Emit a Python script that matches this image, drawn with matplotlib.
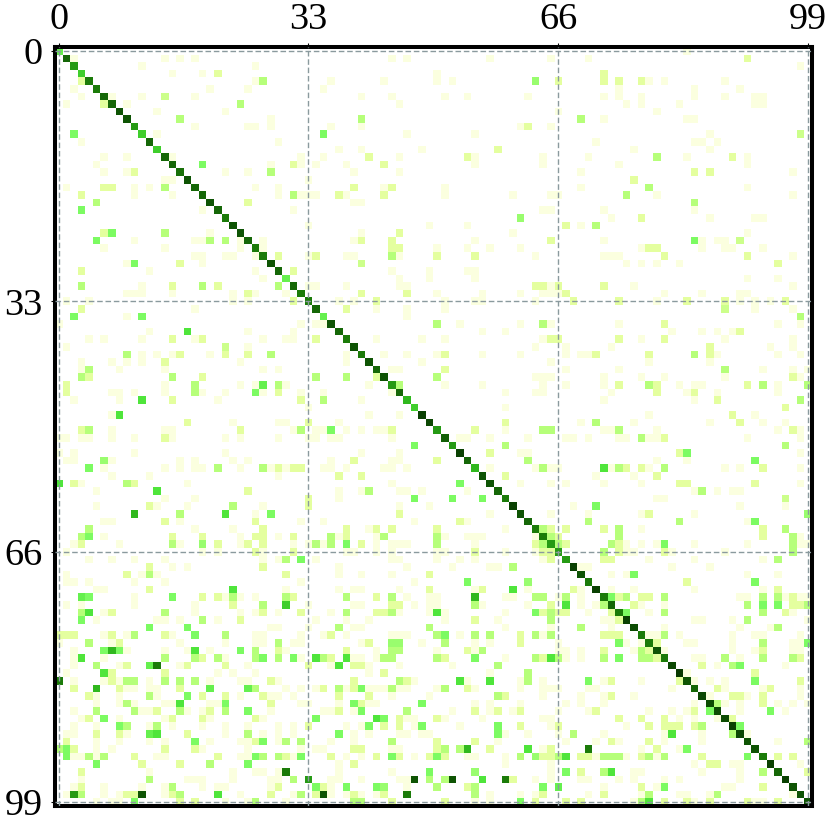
import numpy as np
import matplotlib
matplotlib.use('Agg')
import matplotlib.pyplot as plt
from matplotlib.colors import LinearSegmentedColormap

# diagonal strength, row 0 to 99
diag = [4.5, 7.5, 6.5, 5.5, 7, 7, 7.5, 7.5, 8, 8, 6.5, 5.5, 7.5, 5.5, 7.5, 7.5, 7.3, 8, 7.5, 7.5,
        8, 7.5, 7, 8, 8, 7.5, 7, 7, 8, 7.5, 4.5, 7.5, 7, 7, 7.5, 4.5, 8, 7.5, 7, 8,
        7, 8, 7.5, 8, 6.5, 7.5, 6, 5.5, 8.5, 8.3, 6.5, 7.7, 6.5, 8.5, 7.5, 6, 8, 8, 7.5, 7,
        8.5, 8, 7.5, 7, 7, 6.5, 6.5, 6.5, 8.5, 8, 7, 8.5, 7, 7.5, 7, 8.5, 8.2, 7, 7, 8,
        7, 8.3, 8.7, 8, 7.5, 8.3, 8.2, 8.2, 8.2, 8.5, 8.3, 8, 8, 7, 8.5, 7.5, 8.5, 8, 8, 8]

# off diagonal cells, one dict per row: column -> strength
r00 = {83:1}
r01 = {2:1,14:1,16:1,18:1,44:1,46:1,57:1,65:1,70:1,91:2}
r02 = {11:1,26:1,98:1}
r03 = {15:1,19:1,21:2,50:1,72:2}
r04 = {3:2,26:1,27:3,36:1,43:1,50:1,52:1,63:3.5,66:2,72:2,74:2,77:2,78:1,80:1,88:1}
r05 = {2:1,20:1,25:1,35:1,74:1,84:1,90:1}
r06 = {3:1,7:1,11:1,14:2.5,18:1,40:1,44:1,51:1,54:1,62:1,72:1,74:1,77:1,84:1,88:1,92:1,93:1}
r07 = {1:1,6:2,9:1,24:3,45:1,75:1,77:1,82:1,92:1,93:1}
r08 = {13:1,22:1,66:1,79:1}
r09 = {16:3,28:1,40:3,69:3,72:1,83:1,84:1}
r10 = {18:1,25:1,26:1,28:1,36:1,40:1,61:1,62:2,65:1}
r11 = {2:4,13:1,35:4,46:1,55:1,86:1,98:2.5}
r12 = {3:1,29:1,71:1,84:1,85:1,87:1}
r13 = {37:1,40:1,48:1,58:2,76:1,86:1}
r14 = {6:1,9:1,15:1,32:1,35:1,41:2,45:1,54:2,55:1,64:1,70:1,79:3,83:1,89:2,91:1}
r15 = {5:1,19:4,28:1,31:2,32:1,34:1,38:1,43:2,55:1,64:1,74:1,91:1}
r16 = {6:1,9:1,10:2,22:1,25:1,28:3,39:1,45:1,69:1,84:2,86:2,97:1}
r17 = {14:1,15:1,33:1,76:2}
r18 = {1:1,6:2,7:2,10:1,12:1,14:3,26:1,29:1,39:2,43:1,44:2,51:1,69:1,78:3,91:1}
r19 = {3:2,10:1,15:1,29:1,31:3,32:1,33:1,34:1,37:2,38:1,43:2,51:1,60:1,65:1,66:1,75:3,79:1,97:1}
r20 = {5:3,25:2,39:1,40:1,84:3}
r21 = {3:4,19:1,31:1,64:1,65:1,72:1,84:1}
r22 = {61:3.5,73:1,77:2,86:1,92:1,93:1}
r23 = {33:1,49:1,54:1,67:2,69:1,71:3}
r24 = {6:2,7:4,14:3,20:1,40:1,45:2,60:1,91:1}
r25 = {5:4,10:1,18:1,19:1,20:3,22:3,24:1,27:1,39:1,40:2,44:2,55:1,65:2,72:1,84:4,85:1,87:1,88:1,90:2.5}
r26 = {6:1,14:1,24:1,27:1,44:2,45:2,50:1,54:1,57:1,61:1,77:1,78:2,79:2,85:1,88:1,89:1,93:1}
r27 = {18:1,19:1,22:1,23:1,26:1,29:2,33:1,34:2,38:1,39:1,44:3,45:1,50:2,55:2,63:1,72:1,73:1,74:1,80:2,91:2,97:1}
r28 = {9:1,10:4,16:2,19:1,40:2.5,75:1,77:1,79:1,82:1,95:2}
r29 = {3:2,12:1,26:1,31:2,44:1,49:1,54:1,55:1}
r30 = {27:1,45:1,49:1,55:1,91:1,95:1}
r31 = {3:3,11:1,15:2,19:3,21:2,29:3,33:1,34:1,38:1,45:1,46:1,63:2,64:2,65:1,66:2,72:2,76:1,97:1}
r32 = {9:1,10:1,11:1,15:1,23:1,25:2,26:1,30:1,40:2,46:2,50:1,56:1,61:1,64:1,65:1,66:1,67:2,80:1,85:1,90:1,91:1}
r33 = {1:1,4:1,23:1,25:1,31:2,37:1,39:1,42:2,51:1,55:1,56:1,63:1,68:2,74:2,79:1,83:2,88:2,90:1,92:1,94:1,96:2}
r34 = {3:2,18:1,38:2,42:1,46:1,51:1,88:2.5,92:1,97:1}
r35 = {2:4,9:1,11:4,46:1,98:3}
r36 = {0:1,32:1,34:1,35:1,50:3,53:1,61:1,64:3,65:1,74:1,80:2,95:1,98:1}
r37 = {12:1,17:5,25:1,31:1,56:1,59:1,81:1,85:1,87:1,89:1,90:2}
r38 = {4:1,6:1,11:1,15:2,18:1,19:2,27:1,30:1,31:1,34:2,42:1,48:1,51:1,64:1,65:2,66:2,74:2,77:1,80:2,88:1,97:1}
r39 = {1:1,22:2.5,25:1,63:1,67:1,73:1,86:2,94:1,97:1}
r40 = {9:3,11:1,13:1,15:1,16:2,20:1,22:2,25:2,28:3,38:1,43:1,46:1,50:1,51:2,56:1,61:1,67:1,69:1,70:1,71:2,78:2,84:3,86:2,87:1,95:1,98:1}
r41 = {3:1,7:1,9:1,11:1,14:2,24:1,38:1,48:1,65:1,78:1,86:1}
r42 = {3:1,4:3,8:1,14:1,27:1,29:1,44:1,45:1,51:2,67:1,74:1,88:3,93:1,97:1,99:1}
r43 = {3:3,4:2,15:3,19:2,34:3,38:3,42:2,50:3,63:1,64:1,65:1,72:1,77:1,80:1,88:1,97:2,98:1}
r44 = {1:2,14:1,18:3,24:1,26:1,27:4.5,29:3,30:1,41:1,45:3,51:1,56:1,64:1,67:1,72:1,74:2,78:3,79:2,82:1,84:1,85:1,91:2,93:3,95:1,99:3}
r45 = {1:2,7:1,8:1,10:1,14:1,18:3,19:1,22:1,26:4,27:1,29:2,32:1,35:1,44:1,59:1,63:1,64:1,73:1,79:2,83:1,84:2,87:1,95:1}
r46 = {2:1,8:1,11:5,15:2,21:1,32:2,35:3,40:1,72:1,84:1,87:2,98:3}
r47 = {33:1,59:1,96:2}
r48 = {7:1,8:5,41:1,45:1,78:1,89:2,92:1}
r49 = {17:2,23:1,29:1,30:1,33:2,37:1,59:2,69:1,71:3,76:1,86:1,90:2,93:1,96:1}
r50 = {3:2,4:3,7:1,14:1,15:1,24:2,31:1,32:3,34:1,35:1,36:4,38:1,40:1,42:1,43:1,44:2,55:2,59:1,64:3,65:3,72:1,73:1,74:3,79:1,95:1,97:2,98:1}
r51 = {0:1,1:1,3:1,4:1,7:1,10:1,14:2,15:1,22:1,24:1,29:1,33:1,34:1,36:1,37:1,44:1,53:1,54:1,57:1,62:1,67:1,68:1,70:1,74:1,75:1,77:3,78:1,79:1,80:2,91:1,98:1}
r52 = {47:4,59:3,96:3}
r53 = {0:1,2:1,10:1,22:1,40:1,45:1,57:2,61:1,62:1,82:2,83:4,98:1}
r54 = {1:1,2:1,6:3.5,7:1,16:1,18:1,23:1,25:1,36:1,39:2,44:1,45:1,50:2,62:3,79:1,83:1,92:4}
r55 = {4:4,6:1,14:1,16:1,18:1,19:1,21:3,24:1,27:3,28:1,29:2,30:1,31:2,32:2,35:1,36:1,38:1,43:1,44:1,46:1,57:1,63:1,64:3,65:1,66:1,72:5,73:1,74:3,75:2,77:2,78:1,80:3,88:1,90:1,93:2,98:1}
r56 = {7:1,12:1,29:1,37:2,40:2,59:2,71:1,76:1,79:2}
r57 = {0:5,2:2,3:1,9:3,10:2,17:1,44:1,53:4,61:1,65:1,67:1,72:1,77:1,82:2,83:2,92:2,98:1}
r58 = {5:1,13:5,25:2,37:1,40:1,41:3,45:1,46:1,48:1,54:1,84:1,85:3,87:1,89:1,90:1}
r59 = {14:1,18:1,33:2,37:1,47:4,52:4,56:4,79:1,80:1,96:2.5}
r60 = {5:1,12:2,13:1,17:1,23:3,27:1,33:2,45:1,49:1,68:1,71:4,90:1,96:1}
r61 = {10:6,16:3,22:5,26:1,28:4,45:2,57:1,65:1,70:1,77:1,78:2,84:1,99:3.5}
r62 = {6:1,7:1,14:2,16:1,26:2,32:1,35:1,47:1,53:2,54:1,70:3,82:3,91:1,92:4}
r63 = {4:3,18:1,23:1,27:2,38:2,41:1,42:2,44:2,50:2,59:1,64:3,65:2,67:2,72:2,74:3,77:1,93:2,96:3}
r64 = {3:3,4:4,6:1,15:2,19:2,24:1,26:2,27:2,29:1,31:2,36:3,37:1,38:2,42:1,43:3,50:3,51:1,54:1,55:1,56:1,63:1,65:3,66:2,74:3,93:2,97:3,98:1}
r65 = {2:1,3:2,8:1,15:3,16:1,19:3.5,21:2,24:1,25:2,27:2,31:1,33:1,34:3,35:1,36:3,38:4,40:2,42:1,44:1,45:1,46:1,50:3,55:1,63:2,64:3,66:3,67:2,73:3,74:2,75:1,77:1,79:1,80:4,84:1,91:1,97:3,98:1,99:1}
r66 = {1:1,19:1,21:1,26:2,27:1,31:2,38:1,39:1,42:1,44:1,50:1,51:1,55:2,59:1,63:1,64:2,65:2,72:3,74:2,75:1,76:1,80:2,81:1,88:1,97:3}
r67 = {4:1,7:1,10:1,14:1,27:1,29:1,30:3,32:4,34:1,44:1,45:1,50:1,53:1,55:1,64:1,65:2,72:2,73:2,78:1,84:1,93:1,95:3}
r68 = {12:2,15:1,17:1,27:2,37:1,46:1,52:1,57:1,58:1,60:3,69:1,70:1,81:1,86:1}
r69 = {1:1,9:2,11:1,12:3,13:1,30:2,37:1,40:1,44:1,49:2,73:1,75:1,76:4,91:1,95:1}
r70 = {1:1,2:1,4:1,10:1,14:1,32:1,47:1,54:4,62:3.5,83:2,92:4}
r71 = {5:1,6:1,12:2,23:5,30:1,37:1,39:1,40:1,45:1,49:2,55:1,56:2,60:5,62:1,68:2,69:1,73:1,76:1,84:1,93:1,95:2}
r72 = {3:4.5,4:4,10:1,15:4,19:2,21:2,22:1,23:3,24:1,26:1,30:3,31:2,38:3,42:2,44:3,46:1,49:1,50:1,55:6,59:1,60:1,63:3,64:3,66:1,67:3,69:1,73:4,74:2,75:3,77:2,78:2,80:3,90:1,91:1,93:3,95:3,96:1,97:2,98:1,99:1}
r73 = {1:1,3:1,10:1,18:1,23:2,27:3,30:5.5,33:1,39:1,40:1,44:2,45:2,47:1,49:1,50:1,55:3,56:1,62:1,65:2,67:5,69:1,71:1,72:3,76:2,77:1,80:1,91:3,93:4,95:4,97:2,98:2,99:3}
r74 = {3:3,4:5,6:1,7:2,14:3,18:1,24:1,26:1,27:2,29:1,32:2,36:1,38:3,42:2,43:2,44:3,45:1,49:1,50:5,51:1,59:1,63:4,64:2,65:3,66:2,67:2,70:1,73:2,75:4,78:1,80:3,93:3,96:2,97:1}
r75 = {3:4,5:1,13:1,14:1,16:1,19:3,21:1,24:2,34:1,38:1,41:1,51:1,55:2,58:1,65:3,72:1,73:1,74:2,84:1,85:1,89:1,91:3,99:1}
r76 = {12:4,17:4,28:1,29:1,33:1,37:3,39:1,40:1,49:3,59:1,65:1,69:3,73:1,80:1,90:1,94:1,95:3}
r77 = {0:2,1:2,2:2,6:1,7:2,9:1,10:3,14:2,15:1,18:4,22:3,26:1,27:1,32:1,35:1,36:2,38:1,44:1,45:1,46:1,50:3,51:4,53:1,55:3,57:3,61:2,63:3,64:1,65:3,72:2,73:2,74:2,78:1,79:1,80:3,82:1,89:1,92:1,93:1,98:1}
r78 = {0:1,4:3,7:1,8:2,16:1,22:1,26:1,27:1,29:3,31:1,32:1,40:1,41:2,44:3.5,45:3.5,48:1,51:3,55:1,57:1,61:2,66:1,74:4,75:1,77:1,79:2,83:1,84:1,89:1,93:3,97:1,98:1,99:4}
r79 = {2:1,6:4,7:6,8:4,9:1,14:1,17:1,18:5,20:1,24:4,26:3,29:2,30:1,38:2,42:1,44:3,45:3,50:1,54:2,55:1,56:3,66:1,67:1,69:1,72:2,76:1,77:3,78:2,80:1,89:1,92:1,93:2,97:1,98:1}
r80 = {2:1,3:5,6:1,14:3,18:3,19:2,21:3,22:1,26:3,27:4,29:3,31:4,32:1,34:5,35:3,36:2,38:5,39:1,40:1,42:1,43:3,44:3,50:3,51:2,55:4,59:1,63:3,64:2,65:5,66:3,67:1,69:1,72:3,74:4,77:3,78:3,79:2,84:1,85:1,88:3,90:1,93:3,97:3,98:2}
r81 = {2:1,5:3,8:1,9:2,12:4.5,13:7,16:1,17:2,22:2,25:1,33:2,36:1,37:5,39:2,40:2,41:1,45:1,52:1,58:3,85:2,87:1,89:3,90:4,96:1}
r82 = {1:1,6:5,7:2,14:2,21:1,23:1,26:1,41:1,43:2,57:1,62:3,83:1,92:2}
r83 = {0:7,2:1,6:1,7:2,8:1,9:3,10:3,12:1,14:3,16:3,18:3,20:1,24:1,25:1,28:2,29:1,39:2,45:3,46:2,47:1,53:5,54:1,57:5,61:1,62:3,64:1,70:4,72:1,73:2,77:1,82:2,84:1,86:1,88:1,92:4,98:2}
r84 = {2:2,5:6,8:2,9:1,10:1,12:1,13:1,16:2,20:4.5,25:4.5,26:3,30:1,32:1,34:1,35:2,37:3,38:1,39:2,40:4,41:1,42:1,43:1,44:3,45:1,46:1,50:1,51:3,54:2,55:1,61:1,64:1,65:1,66:1,70:1,71:1,81:1,87:2,88:1,93:1,94:2,98:1}
r85 = {4:2,5:1,8:1,12:3,13:1,17:4,19:2,22:2,24:1,27:2,28:1,29:1,31:1,37:2,41:2,44:1,49:1,58:3,59:2,64:1,69:1,72:1,73:2,76:1,86:1,89:2,90:2,91:1,93:2,98:1}
r86 = {5:1,8:1,9:3,10:1,14:1,15:1,16:5,20:1,21:1,22:4,28:2,32:1,33:1,37:1,39:4,40:2,41:1,42:1,48:4,55:1,57:1,61:1,67:1,69:1,72:1,84:1,87:3,88:1,90:1,93:2,95:1,97:1,99:1}
r87 = {2:1,5:3,10:3,11:1,12:1,13:2,16:3,17:1,19:1,20:2,22:3,25:4,28:1,35:1,36:1,37:2,39:1,40:4,46:3,52:1,55:2,57:1,58:2,60:1,61:2,66:1,70:1,71:2,78:1,81:1,83:1,84:2,86:4,90:1,94:4,96:1}
r88 = {3:1,4:2,6:4,8:1,14:1,15:2,19:2,20:1,26:2,27:1,34:4,42:5,43:4,45:2,46:1,47:1,50:2,51:1,56:1,64:1,65:1,74:2,77:2,80:2,82:1,84:1,87:1,89:2}
r89 = {2:1,5:1,8:4,9:3,12:1,13:3,15:1,19:1,22:1,25:1,29:1,31:1,33:2,38:1,40:1,41:4,43:2,45:2,47:1,48:4,53:1,58:4,61:2,65:1,66:2,75:1,78:2,80:2,81:2,82:2,84:2,85:3,90:4}
r90 = {1:1,2:1,5:2,8:2,9:1,12:4.5,13:5,17:2,22:1,25:3,27:1,29:1,31:1,37:4,39:1,41:1,45:1,46:1,48:1,49:1,58:4,59:1,62:1,66:1,68:3,72:1,80:1,81:5,85:1,89:3,91:1}
r91 = {1:2,5:1,8:1,12:1,14:1,18:4,20:1,24:1,25:1,26:2,27:4,29:1,30:3,32:3,36:1,39:1,44:3,50:2,55:2,58:1,67:1,71:1,73:2,74:1,78:2,80:1,85:1,95:1,99:3}
r92 = {0:3,1:4,2:2,5:1,7:1,14:2,18:2,19:1,25:1,32:1,34:1,35:1,39:2,40:2,44:1,45:1,50:2,51:3,53:3,54:6,57:2,62:5,64:1,65:2,70:7,77:1,79:2,82:1,83:4}
r93 = {1:4,2:1,3:1,4:3,5:1,6:3,10:2,13:1,14:1,21:2,24:1,25:1,26:4,27:3,29:3,30:2,31:1,32:4,36:2,38:1,40:1,42:2,44:4,45:2,47:1,49:2,50:4,51:2,54:1,55:1,59:1,61:3,63:3.5,64:2,65:2,66:3,67:5,69:2,70:2,71:1,72:3,73:3,74:3,75:1,77:2,78:3,79:1,80:3,85:2,91:4,95:2,97:2}
r94 = {5:4,11:2,16:2,20:3,25:4,37:1,39:2,59:1,65:1,84:1,86:2,87:2,89:1,90:1,98:1}
r95 = {3:2,12:1,23:1,26:1,27:1,29:1,30:7,37:1,44:1,49:4,55:3.5,65:1,67:4,69:2,72:3,73:5,76:1,77:1,85:1,90:1,93:3,99:2}
r96 = {3:1,12:3,17:1,18:1,19:1,23:1,28:1,29:1,31:3,33:6.5,36:1,37:1,40:1,45:1,46:1,47:8,49:3,51:3,52:8,56:5,59:7,60:2,63:1,65:1,69:1,70:1,74:1,76:1,80:1,82:1,90:1}
r97 = {2:1,3:2,6:1,11:1,14:1,15:3,19:1,21:1,22:1,28:1,29:2,34:4,35:2,36:1,38:4,42:4,43:3.5,46:1,50:3,54:2,55:3,64:4,66:4.5,72:1,77:2,79:1,80:4,88:1,89:1,93:2}
r98 = {1:1,2:6.5,3:3,6:1,8:1,9:2,10:2,11:8,14:1,15:2,16:3,21:5,24:1,28:2,31:1,32:3,34:2,35:8,36:1,38:1,39:2,40:1,42:1,43:2,46:7,55:3,57:1,61:1,63:1,64:2,70:1,72:2,77:1,78:3,82:1,83:1,86:1,87:3,97:1}
r99 = {5:1,7:1,8:1,10:4,16:2,18:2,22:1,25:1,26:3,30:1,39:3,40:3,44:2,51:2,55:1,57:1,61:4,63:2,67:2,69:2,76:1,77:3,78:5,80:2,83:2,84:1,86:2,91:2,92:1,93:1,95:2}

ticks = [0, 33, 66, 99]

# build the matrix from the rows
rows = [globals()['r%02d' % i] for i in range(100)]
M = np.zeros((100, 100))
for i, row in enumerate(rows):
    for j, v in row.items():
        M[i, j] = v
    M[i, i] = diag[i]

cmap = LinearSegmentedColormap.from_list('greens', [
    (0.0, '#ffffff'), (1 / 9, '#fbffdf'), (2 / 9, '#e4ff9e'), (3 / 9, '#b6ff7a'),
    (4 / 9, '#7cfb62'), (5 / 9, '#50e63c'), (6 / 9, '#30b81e'), (7 / 9, '#1c7c0a'),
    (8 / 9, '#0f5505'), (1.0, '#062e00')])

plt.rcParams['font.family'] = ['Liberation Serif', 'DejaVu Serif']

fig = plt.figure(figsize=(8.3, 8.24), dpi=100)
ax = fig.add_axes([54.9 / 830, 18 / 824, 756.9 / 830, 758.8 / 824])
ax.imshow(M, cmap=cmap, vmin=0, vmax=9, aspect='auto', interpolation='nearest')

for t in ticks:
    ax.axhline(t, color='#8a9a9e', lw=1, ls=(0, (4, 2)), zorder=3)
    ax.axvline(t, color='#8a9a9e', lw=1, ls=(0, (4, 2)), zorder=3)

ax.xaxis.tick_top()
ax.set_xticks(ticks)
ax.set_yticks(ticks)
ax.tick_params(length=3, width=0.8, labelsize=27.5)
ax.tick_params(axis='x', pad=4)
ax.tick_params(axis='y', pad=6)
for s in ax.spines.values():
    s.set_linewidth(2.9)

fig.savefig('out.png', dpi=100)
